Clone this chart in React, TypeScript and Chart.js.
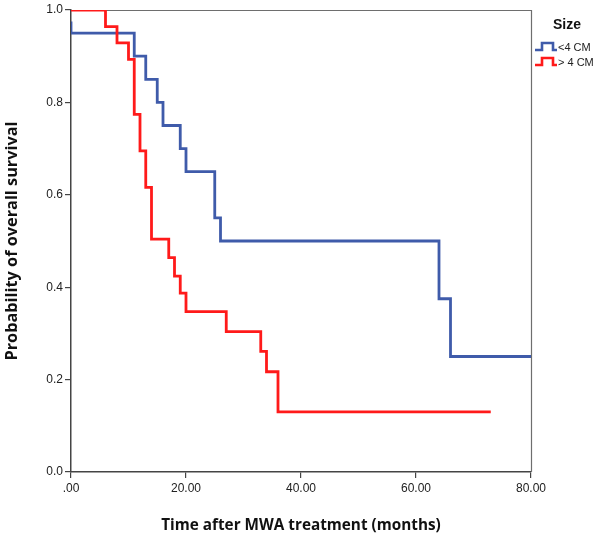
import React, { useEffect, useRef } from "react";
import { Chart, registerables } from "chart.js";

Chart.register(...registerables);

const legendTitle = "Size";
const groupLabels = ["<4 CM", "> 4 CM"];
const groupColors = ["#3F5BAA", "#FF1A1A"];

// Kaplan-Meier step points (time in months, survival probability)
const smallTimes = [0, 0, 11, 13, 15, 16, 19, 20, 25, 26, 64, 66, 80];
const smallSurv = [0.975, 0.95, 0.9, 0.85, 0.8, 0.75, 0.7, 0.65, 0.55, 0.5, 0.375, 0.25, 0.25];
const largeTimes = [0, 6, 8, 10, 11, 12, 13, 14, 17, 18, 19, 20, 27, 33, 34, 36, 73];
const largeSurv = [1.0, 0.964, 0.929, 0.893, 0.774, 0.695, 0.616, 0.504, 0.464, 0.424, 0.387, 0.347, 0.304, 0.261, 0.217, 0.13, 0.13];

const xTickValues = [0, 20, 40, 60, 80];
const xTickLabels = [".00", "20.00", "40.00", "60.00", "80.00"];
const yTickValues = [0, 0.2, 0.4, 0.6, 0.8, 1.0];
const yTickLabels = ["0.0", "0.2", "0.4", "0.6", "0.8", "1.0"];

const xTitle = "Time after MWA treatment (months)";
const yTitle = "Probability of overall survival";

const framePlugin = {
  id: "frame",
  beforeDatasetsDraw(chart: any) {
    const { ctx, chartArea } = chart;
    ctx.save();
    ctx.strokeStyle = "#6e6e6e";
    ctx.lineWidth = 1.2;
    ctx.beginPath();
    ctx.moveTo(chartArea.left, chartArea.top + 0.5);
    ctx.lineTo(chartArea.right, chartArea.top + 0.5);
    ctx.moveTo(chartArea.right + 0.5, chartArea.top);
    ctx.lineTo(chartArea.right + 0.5, chartArea.bottom);
    ctx.stroke();
    ctx.restore();
  },
};

const legendPlugin = {
  id: "stepLegend",
  afterDraw(chart: any) {
    const { ctx, chartArea } = chart;
    const x0 = chartArea.right + 4;
    ctx.save();
    ctx.fillStyle = "#111";
    ctx.font = "bold 14px 'Liberation Sans', Arial, sans-serif";
    ctx.textAlign = "center";
    ctx.textBaseline = "middle";
    ctx.fillText(legendTitle, 567, 25);
    ctx.font = "11px 'Liberation Sans', Arial, sans-serif";
    ctx.textAlign = "left";
    groupLabels.forEach((lab, i) => {
      const yTop = 43 + i * 15;
      const yBot = yTop + 7;
      ctx.strokeStyle = groupColors[i];
      ctx.lineWidth = 2.6;
      ctx.lineJoin = "miter";
      ctx.beginPath();
      ctx.moveTo(x0, yBot);
      ctx.lineTo(x0 + 7, yBot);
      ctx.lineTo(x0 + 7, yTop);
      ctx.lineTo(x0 + 18, yTop);
      ctx.lineTo(x0 + 18, yBot);
      ctx.lineTo(x0 + 22, yBot);
      ctx.stroke();
      ctx.fillStyle = "#222";
      ctx.fillText(lab, x0 + 23, yTop + 5);
    });
    ctx.restore();
  },
};

export default function App() {
  const ref = useRef<HTMLCanvasElement | null>(null);
  useEffect(() => {
    if (!ref.current) return;
    const mk = (ts: number[], ss: number[]) => ts.map((t, i) => ({ x: t, y: ss[i] }));
    const chart = new Chart(ref.current, {
      type: "line",
      data: {
        datasets: [
          {
            label: groupLabels[0],
            data: mk(smallTimes, smallSurv),
            borderColor: groupColors[0],
            borderWidth: 2.8,
            stepped: "before",
            pointRadius: 0,
            fill: false,
            borderJoinStyle: "miter",
            borderCapStyle: "butt",
            order: 2,
          },
          {
            label: groupLabels[1],
            data: mk(largeTimes, largeSurv),
            borderColor: groupColors[1],
            borderWidth: 2.8,
            stepped: "before",
            pointRadius: 0,
            fill: false,
            borderJoinStyle: "miter",
            borderCapStyle: "butt",
            order: 1,
          },
        ],
      },
      options: {
        responsive: false,
        animation: false,
        layout: { padding: { top: 10, right: 71, bottom: 0, left: 0 } },
        plugins: {
          legend: { display: false },
          tooltip: { enabled: false },
        },
        scales: {
          x: {
            type: "linear",
            min: 0,
            max: 80,
            afterBuildTicks: (s: any) => {
              s.ticks = xTickValues.map((v) => ({ value: v }));
            },
            afterFit: (s: any) => {
              s.height = 67;
            },
            ticks: {
              autoSkip: false,
              maxRotation: 0,
              padding: 3,
              color: "#222",
              font: { family: "'Liberation Sans', Arial, sans-serif", size: 12 },
              callback: (_v: any, i: number) => xTickLabels[i],
            },
            grid: {
              drawOnChartArea: false,
              drawTicks: true,
              tickLength: 6,
              color: "#444",
              lineWidth: 1.2,
            },
            border: { color: "#444", width: 1.5 },
            title: {
              display: true,
              text: xTitle,
              color: "#111",
              font: { family: "'Open Sans', sans-serif", size: 15.3, weight: "bold" },
              padding: { top: 0, bottom: 4 },
            },
          },
          y: {
            min: 0,
            max: 1,
            afterBuildTicks: (s: any) => {
              s.ticks = yTickValues.map((v) => ({ value: v }));
            },
            afterFit: (s: any) => {
              s.width = 71;
            },
            ticks: {
              autoSkip: false,
              padding: 2,
              color: "#222",
              font: { family: "'Liberation Sans', Arial, sans-serif", size: 12 },
              callback: (_v: any, i: number) => yTickLabels[i],
            },
            grid: {
              drawOnChartArea: false,
              drawTicks: true,
              tickLength: 6,
              color: "#444",
              lineWidth: 1.2,
            },
            border: { color: "#444", width: 1.5 },
            title: {
              display: true,
              text: yTitle,
              color: "#111",
              font: { family: "'Open Sans', sans-serif", size: 16.3, weight: "bold" },
              padding: { top: 3, bottom: 0 },
            },
          },
        },
      },
      plugins: [framePlugin, legendPlugin],
    } as any);
    return () => chart.destroy();
  }, []);
  return (
    <div style={{ position: "absolute", left: 0, top: 0, width: 602, height: 539, background: "#fff" }}>
      <canvas ref={ref} width={602} height={539} style={{ width: 602, height: 539, display: "block" }} />
    </div>
  );
}
